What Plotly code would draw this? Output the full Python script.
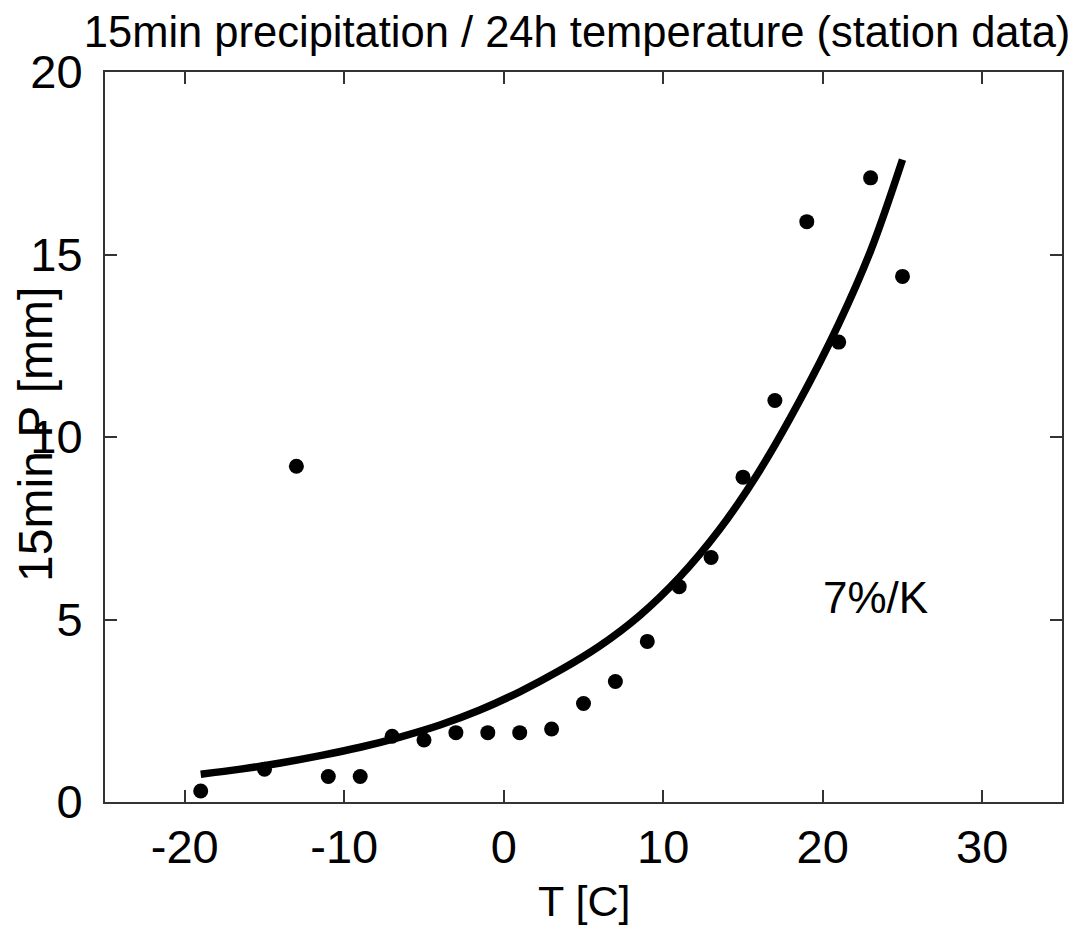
import plotly.graph_objects as go

# Station data points (temperature bins, 15-min precipitation)
temp_c = [-19, -15, -13, -11, -9, -7, -5, -3, -1, 1, 3, 5, 7, 9, 11, 13, 15, 17, 19, 21, 23, 25]
precip_mm = [0.3, 0.9, 9.2, 0.7, 0.7, 1.8, 1.7, 1.9, 1.9, 1.9, 2.0, 2.7, 3.3, 4.4, 5.9, 6.7, 8.9, 11.0, 15.9, 12.6, 17.1, 14.4]

# 7%/K reference curve
curve_t = [-19, -16.5, -14, -11.5, -9, -6.5, -4, -1.5, 1, 3.5, 6, 8.5, 11, 13.5, 16, 18.5, 21, 23, 25]
curve_p = [0.76, 0.9, 1.07, 1.27, 1.5, 1.78, 2.11, 2.52, 3.02, 3.6, 4.27, 5.1, 6.15, 7.45, 9.05, 10.95, 13.1, 15.1, 17.6]

x_ticks = [-20, -10, 0, 10, 20, 30]
x_labels = ["-20", "-10", "0", "10", "20", "30"]
y_ticks = [0, 5, 10, 15, 20]
y_labels = ["0", "5", "10", "15", "20"]

FONT = "Liberation Sans, Arial, sans-serif"

fig = go.Figure()
fig.add_trace(go.Scatter(
    x=temp_c, y=precip_mm, mode="markers",
    marker=dict(color="black", size=15), showlegend=False, cliponaxis=False,
))
fig.add_trace(go.Scatter(
    x=curve_t, y=curve_p, mode="lines",
    line=dict(color="black", width=7.5, shape="spline", smoothing=1.0), showlegend=False,
))

fig.add_annotation(x=23.3, y=5.6, text="7%/K", showarrow=False,
                   font=dict(family=FONT, size=44, color="black"))

# Axis titles (placed as annotations so the y title can overlap tick labels as in the original)
fig.add_annotation(xref="paper", yref="paper", x=0.5, y=-0.136, text="T [C]",
                   showarrow=False, xanchor="center", yanchor="middle",
                   font=dict(family=FONT, size=43, color="black"))
fig.add_annotation(xref="paper", yref="paper", x=-0.072, y=0.503, text="15min P [mm]",
                   textangle=-90, showarrow=False, xanchor="center", yanchor="middle",
                   font=dict(family=FONT, size=48, color="black"))

axis_common = dict(
    showgrid=False, zeroline=False, showline=True, linecolor="#333", linewidth=2,
    mirror="ticks", ticks="inside", ticklen=12, tickcolor="#333", tickwidth=1.5,
    tickfont=dict(family=FONT, size=47, color="black"), automargin=False,
)

fig.update_layout(
    width=1086, height=933,
    margin=dict(l=97, r=32, t=64, b=139),
    paper_bgcolor="white", plot_bgcolor="white",
    title=dict(text="15min precipitation / 24h temperature (station data)",
               x=0.524, xanchor="center", y=0.975, yanchor="middle",
               font=dict(family=FONT, size=43.5, color="black")),
    xaxis=dict(range=[-25, 35], tickvals=x_ticks, ticktext=x_labels,
               ticklabelstandoff=3, **axis_common),
    yaxis=dict(range=[0, 20], tickvals=y_ticks, ticktext=y_labels,
               ticklabelstandoff=11, **axis_common),
)

fig.write_html("out.html")
